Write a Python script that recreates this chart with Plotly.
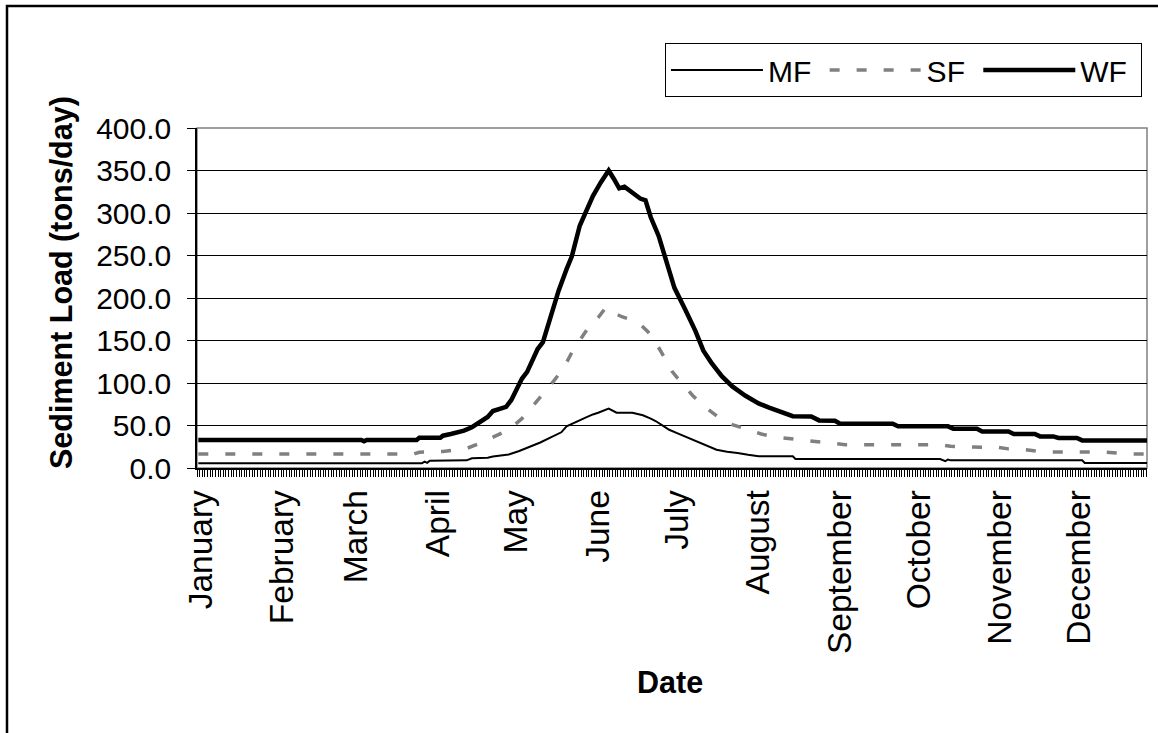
import plotly.graph_objects as go

# ---- data (x = day index on the category axis, y = tons/day) ----
wf_days = [0, 62, 63, 64, 83, 84, 92, 93, 96, 99, 101, 104, 107, 110, 112, 115, 117, 119, 121, 123,
           125, 127, 129, 131, 134, 137, 140, 142, 145, 148, 150, 153, 156, 158, 160, 162, 165, 168,
           170, 172, 175, 177, 181, 185, 189, 192, 195, 199, 203, 208, 213, 217, 219, 223, 226, 233,
           236, 242, 244, 264, 266, 285, 287, 296, 298, 308, 310, 318, 320, 325, 327, 334, 336, 361]
wf_vals = [33, 33, 31.5, 33, 33, 35.5, 35.5, 38, 40, 42, 44, 48, 54, 60, 67, 70, 72, 80, 92, 105,
           113, 126, 140, 148, 178, 209, 234, 249, 285, 305, 320, 336, 350, 340, 329, 331, 324, 317,
           315, 295, 273, 252, 212, 187, 161, 138, 124, 108, 96, 85, 76, 71, 68.5, 64, 61, 60.5,
           56, 55.5, 52, 52, 49, 49, 46.3, 46.3, 43, 43, 40, 40, 37.2, 37.2, 35.3, 35.3, 32.5, 32.5]

sf_days = [0, 82, 84, 93, 97, 102, 107, 112, 118, 123, 127, 131, 135, 139, 142, 145, 148, 152, 155,
           157, 161, 165, 168, 171, 174, 177, 180, 184, 188, 193, 198, 203, 209, 214, 219, 225, 230,
           234, 240, 246, 282, 286, 292, 304, 308, 314, 320, 324, 344, 350, 355, 361]
sf_vals = [16.5, 16.5, 18.5, 19.5, 21, 23, 29, 36, 45, 58, 72, 87, 102, 118, 136, 150, 164, 177, 189,
           184, 178, 174, 169, 160, 147, 131, 114, 99, 85, 71, 59, 51, 45, 40, 36.5, 34.5, 33.3,
           31, 29.4, 27.4, 27.4, 25.5, 24.7, 24.3, 22.5, 21.6, 19.5, 18.8, 18.8, 17.5, 16.5, 16.5]

mf_days = [0, 85, 86, 87, 88, 102, 104, 110, 112, 118, 122, 124, 127, 130, 134, 138, 140, 144, 147,
           150, 152, 156, 159, 165, 169, 172, 174, 177, 179, 182, 186, 189, 192, 195, 197, 201, 205,
           209, 213, 226, 227, 282, 283, 284, 285, 286, 336, 337, 361]
mf_vals = [5.5, 5.5, 7.5, 6, 8.5, 9, 11.5, 12, 13.5, 16, 20, 22.5, 26, 30, 36, 42, 49, 55, 59,
           63, 65, 70, 65, 65, 62, 58, 55, 49, 45, 41, 36, 32, 28, 24, 21.5, 19, 17.7,
           15.5, 13.8, 13.8, 10.6, 10.6, 9, 8, 10, 9, 9, 5.9, 5.9]

month_start_days = [1, 32, 60, 91, 121, 152, 182, 213, 244, 274, 305, 335]
month_names = ["January", "February", "March", "April", "May", "June", "July",
               "August", "September", "October", "November", "December"]

FONT = "Arial, Liberation Sans, sans-serif"
NB = "\u00a0"

fig = go.Figure()
fig.add_trace(go.Scatter(x=mf_days, y=mf_vals, mode="lines", name="MF" + NB,
                         line=dict(color="black", width=2)))
fig.add_trace(go.Scatter(x=sf_days, y=sf_vals, mode="lines", name="SF" + NB,
                         line=dict(color="#808080", width=3.5, dash="10px,17px")))
fig.add_trace(go.Scatter(x=wf_days, y=wf_vals, mode="lines", name="WF" + NB,
                         line=dict(color="black", width=4.5)))

fig.update_layout(
    width=1158, height=733,
    margin=dict(l=197, r=11, t=128, b=265),
    paper_bgcolor="white", plot_bgcolor="white",
    font=dict(family=FONT, color="black", size=28),
    showlegend=True,
    legend=dict(orientation="h", x=0.9947, xanchor="right", y=1.25, yanchor="top",
                bordercolor="black", borderwidth=1, bgcolor="white",
                font=dict(size=30, family=FONT), itemwidth=92, tracegroupgap=0),
    xaxis=dict(range=[-0.5, 360.65], tickmode="array", tickvals=month_start_days,
               ticktext=month_names, tickangle=-90, ticks="outside", ticklen=7,
               tickcolor="rgba(0,0,0,0)", tickfont=dict(size=33.5),
               showline=True, linecolor="black", linewidth=1.5, showgrid=False, zeroline=False,
               ticklabelstandoff=0,
               minor=dict(tickmode="linear", tick0=0.5, dtick=1, ticks="outside", ticklen=7,
                          tickcolor="black", tickwidth=1, showgrid=False)),
    yaxis=dict(range=[0, 400], tickmode="linear", tick0=0, dtick=50, tickformat=".1f",
               ticks="outside", ticklen=8, tickcolor="black", tickfont=dict(size=30),
               ticklabelstandoff=10,
               showline=True, linecolor="black", linewidth=1.5,
               showgrid=True, gridcolor="black", gridwidth=1, zeroline=False),
    shapes=[
        dict(type="rect", xref="paper", yref="paper", x0=0, x1=1, y0=0, y1=1,
             line=dict(color="#808080", width=1.5), layer="below"),
        dict(type="rect", xref="paper", yref="paper", x0=-0.2, x1=1.06, y0=-0.98, y1=1.3588,
             line=dict(color="black", width=2.5), layer="above"),
    ],
    annotations=[
        dict(text="<b>Sediment Load (tons/day)</b>", xref="paper", yref="paper",
             x=-0.1432, y=0.547, xanchor="center", yanchor="middle", textangle=-90,
             showarrow=False, font=dict(size=30.5, family=FONT)),
        dict(text="<b>Date</b>", xref="paper", yref="paper",
             x=(670 - 197) / 950, y=(468 - 682) / 340, xanchor="center", yanchor="middle",
             showarrow=False, font=dict(size=30.5, family=FONT)),
    ],
)

fig.write_html("out.html", config={"displayModeBar": False},
               post_script="document.body.style.margin='0px';")
